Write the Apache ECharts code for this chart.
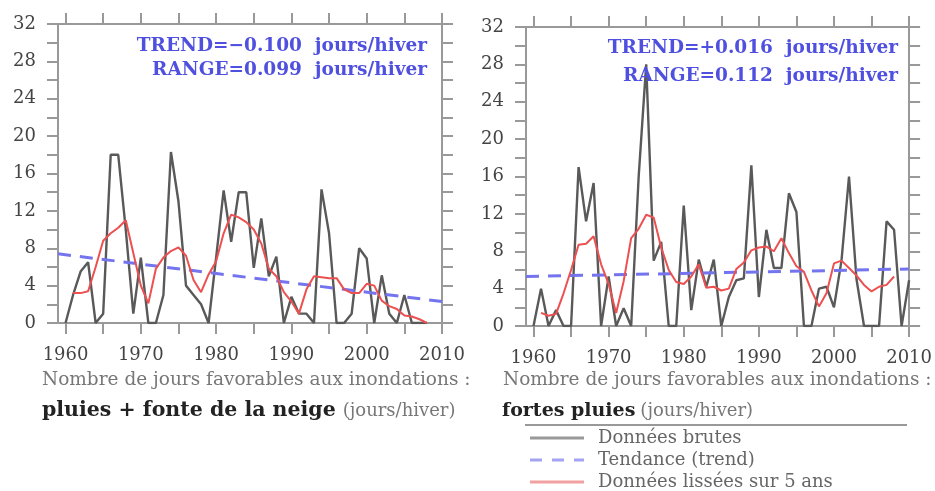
<!DOCTYPE html>
<html><head><meta charset="utf-8">
<script src="https://cdn.jsdelivr.net/npm/echarts@6/dist/echarts.min.js"></script>
<style>html,body{margin:0;padding:0;background:#fff}#c{width:935px;height:491px}</style>
</head><body><div id="c"></div>
<script>
// ---- data ----
const years = [1960,1961,1962,1963,1964,1965,1966,1967,1968,1969,
  1970,1971,1972,1973,1974,1975,1976,1977,1978,1979,
  1980,1981,1982,1983,1984,1985,1986,1987,1988,1989,
  1990,1991,1992,1993,1994,1995,1996,1997,1998,1999,
  2000,2001,2002,2003,2004,2005,2006,2007,2008,2009,2010];
const smoothYears = [1961,1962,1963,1964,1965,1966,1967,1968,1969,1970,
  1971,1972,1973,1974,1975,1976,1977,1978,1979,1980,
  1981,1982,1983,1984,1985,1986,1987,1988,1989,1990,
  1991,1992,1993,1994,1995,1996,1997,1998,1999,2000,
  2001,2002,2003,2004,2005,2006,2007,2008];
// left: pluies + fonte de la neige (1960-2008)
const rawLeft = [0,3,5.5,6.5,0,1,18,18,10,1,
  7,0,0,3,18.3,13,4,3,2,0,
  7,14.2,8.7,14,14,5.9,11.2,5,7.1,0,
  2.8,1,1,0,14.3,9.6,0,0,1,8,
  6.9,0,5.1,1,0,3,0,0,0];
const smoothLeft = [3.2,3.2,3.4,6,8.8,9.6,10.2,11,7.5,4,
  2.1,5.8,7,7.7,8.1,7.2,4.6,3.3,5.2,6.6,
  9.6,11.6,11.3,10.8,10,8.5,5.8,5,3.3,2.3,
  1,3.6,5,4.9,4.8,4.8,3.6,3.2,3.2,4.2,
  4,2.4,1.8,1.5,0.8,0.7,0.4,0];
// right: fortes pluies (1960-2010)
const rawRight = [0,4,0,1.7,0,0,17,11.2,15.3,0,
  5.3,0,1.9,0,16,28,7,9,0,0,
  12.9,1.7,7.1,4.2,7.1,0,3.1,4.9,5.1,17.2,
  3.1,10.3,6.2,6.2,14.2,12.2,0,0,4,4.2,
  2,7,16,5,0,0,0,11.2,10.3,0,4.9];
const smoothRight = [1.4,1.1,1.3,3.5,6,8.7,8.8,9.6,6.6,4.5,
  1.4,4.8,9.4,10.4,11.9,11.6,8.4,6,4.7,4.5,
  5.3,6.6,4.1,4.2,3.8,4,6.1,6.8,8.1,8.4,
  8.5,8,9.4,7.8,6.4,5.8,3.8,2.1,3.5,6.7,
  7,6.2,5.4,4.4,3.7,4.2,4.4,5.3];
const trendYears = [1959, 2010];
const trendLeft = [7.4, 2.3];
const trendRight = [5.3, 6.1];
const xTickValues = [1960,1965,1970,1975,1980,1985,1990,1995,2000,2005,2010];
const xLabelValues = [1960,1970,1980,1990,2000,2010];
const yTickLabels = [0,4,8,12,16,20,24,28,32];
const names = ['Données brutes','Tendance (trend)','Données lissées sur 5 ans'];

// ---- helpers ----
const FONT = '"DejaVu Serif", "Liberation Serif", serif';
const FRAME = '#999';
const RAW_C = '#595959', TREND_C = '#7474ee', SMOOTH_C = '#ec5050';
const pairs = (xs, ys) => ys.map((v, i) => [xs[i], v]);

function xAxes(gi) {
  const base = {
    type: 'value', gridIndex: gi, min: 1959, max: 2010,
    splitLine: {show: false},
    axisLine: {show: true, onZero: false, lineStyle: {color: FRAME, width: 2}},
    axisTick: {show: true, customValues: xTickValues, length: 11, lineStyle: {color: FRAME, width: 2}}
  };
  return [
    Object.assign({}, base, {position: 'bottom',
      axisLabel: {customValues: xLabelValues, margin: 23, fontFamily: FONT, fontSize: 18, color: '#444',
        formatter: v => String(v)}}),
    Object.assign({}, base, {position: 'top', axisLabel: {show: false}})
  ];
}
function yAxes(gi) {
  const base = {
    type: 'value', gridIndex: gi, min: yTickLabels[0], max: yTickLabels[yTickLabels.length - 1], interval: 4,
    splitLine: {show: false}, minorSplitLine: {show: false},
    axisLine: {show: true, onZero: false, lineStyle: {color: FRAME, width: 2}},
    axisTick: {show: true, length: 11, lineStyle: {color: FRAME, width: 2}},
    minorTick: {show: true, splitNumber: 2, length: 11, lineStyle: {color: FRAME, width: 2}}
  };
  return [
    Object.assign({}, base, {position: 'left',
      axisLabel: {margin: 22, fontFamily: FONT, fontSize: 18, color: '#444', formatter: v => String(v)}}),
    Object.assign({}, base, {position: 'right', axisLabel: {show: false}})
  ];
}
function panelSeries(xi, yi, raw, smooth, trend) {
  return [
    {name: names[0], type: 'line', xAxisIndex: xi, yAxisIndex: yi, data: pairs(years, raw),
      symbol: 'none', z: 2, lineStyle: {color: RAW_C, width: 2.4}},
    {name: names[1], type: 'line', xAxisIndex: xi, yAxisIndex: yi, data: pairs(trendYears, trend),
      symbol: 'none', z: 3, lineStyle: {color: TREND_C, width: 3, type: [13, 9]}},
    {name: names[2], type: 'line', xAxisIndex: xi, yAxisIndex: yi, data: pairs(smoothYears, smooth),
      symbol: 'none', z: 4, lineStyle: {color: SMOOTH_C, width: 2}}
  ];
}
function annot(x, y, text) {
  return {type: 'text', x: x, y: y, z: 100,
    style: {text: text, font: 'bold 18.5px ' + FONT, fill: '#5050e0',
      align: 'right', textAlign: 'right', verticalAlign: 'middle', textVerticalAlign: 'middle'}};
}
function txt(x, y, text, font, fill) {
  return {type: 'text', x: x, y: y, z: 100,
    style: {text: text, font: font, fill: fill, verticalAlign: 'middle', textVerticalAlign: 'middle'}};
}
function legendRow(y, name, color, dash) {
  return [
    {type: 'line', z: 100, shape: {x1: 530, y1: y, x2: 584, y2: y},
      style: {stroke: color, lineWidth: 3, lineDash: dash || null}},
    txt(598, y, name, '18px ' + FONT, '#666')
  ];
}
function subtitle(x, bold, boldSize, gap) {
  return {type: 'text', x: x, y: 411, z: 100, style: {text: '{b|' + bold + '}{n|(jours/hiver)}',
    verticalAlign: 'middle', textVerticalAlign: 'middle',
    rich: {b: {fontFamily: FONT, fontSize: boldSize, fontWeight: 'bold', fill: '#222'},
           n: {fontFamily: FONT, fontSize: 18, fill: '#777', padding: [0, 0, 0, gap]}}}};
}

const chart = echarts.init(document.getElementById('c'), null, {renderer: 'canvas'});
chart.setOption({
  animation: false,
  backgroundColor: '#fff',
  grid: [
    {left: 58, top: 24, width: 384, height: 299},
    {left: 526, top: 27, width: 384, height: 299}
  ],
  xAxis: xAxes(0).concat(xAxes(1)),
  yAxis: yAxes(0).concat(yAxes(1)),
  series: panelSeries(0, 0, rawLeft, smoothLeft, trendLeft)
    .concat(panelSeries(2, 2, rawRight, smoothRight, trendRight)),
  graphic: [
    annot(427, 46, 'TREND=−0.100  jours/hiver'),
    annot(427, 70, 'RANGE=0.099  jours/hiver'),
    annot(898, 48, 'TREND=+0.016  jours/hiver'),
    annot(898, 76, 'RANGE=0.112  jours/hiver'),
    txt(42, 380, 'Nombre de jours favorables aux inondations :', '18.5px ' + FONT, '#777'),
    subtitle(42, 'pluies + fonte de la neige', 20.5, 7),
    txt(503, 380, 'Nombre de jours favorables aux inondations :', '18.5px ' + FONT, '#777'),
    subtitle(502, 'fortes pluies', 19, 5),
    {type: 'line', z: 100, shape: {x1: 525, y1: 425, x2: 907, y2: 425}, style: {stroke: '#999', lineWidth: 2}}
  ].concat(legendRow(438, names[0], '#999'))
   .concat(legendRow(460, names[1], '#a4a4f2', [12, 10]))
   .concat(legendRow(482, names[2], '#f2a0a0'))
});
</script></body></html>
